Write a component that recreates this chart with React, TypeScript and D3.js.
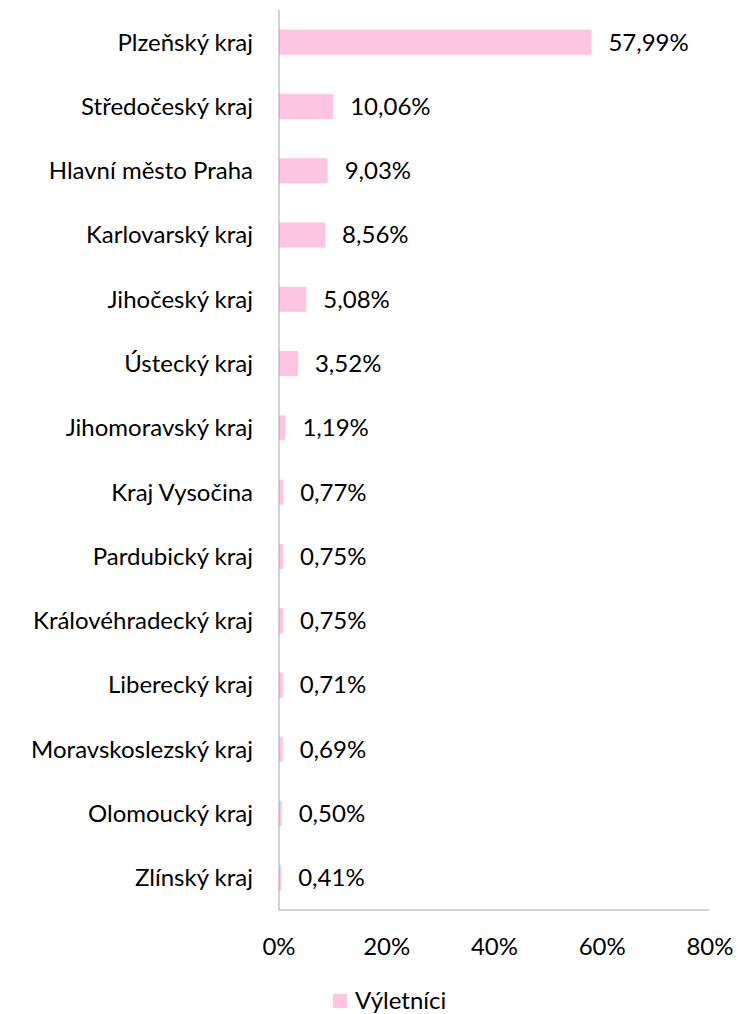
import React from "react";
import * as d3 from "d3";

const categories = [
  "Plzeňský kraj",
  "Středočeský kraj",
  "Hlavní město Praha",
  "Karlovarský kraj",
  "Jihočeský kraj",
  "Ústecký kraj",
  "Jihomoravský kraj",
  "Kraj Vysočina",
  "Pardubický kraj",
  "Královéhradecký kraj",
  "Liberecký kraj",
  "Moravskoslezský kraj",
  "Olomoucký kraj",
  "Zlínský kraj",
];
const values = [57.99, 10.06, 9.03, 8.56, 5.08, 3.52, 1.19, 0.77, 0.75, 0.75, 0.71, 0.69, 0.5, 0.41];
const xTicks = [0, 20, 40, 60, 80];
const seriesName = "Výletníci";

const W = 738;
const H = 1014;
const FONT = "Lato, 'Open Sans', sans-serif";
const FS = 24;
const BAR = "#FFC4E1";
const AXIS = "#A6A6A6";

export default function App() {
  const x = d3.scaleLinear().domain([0, 80]).range([279, 710]);
  const y = d3.scaleBand<string>().domain(categories).range([10, 910]).paddingInner(0.61).paddingOuter(0.305);
  const fmt = (v: number) => v.toFixed(2).replace(".", ",") + "%";
  return (
    <svg width={W} height={H} style={{ position: "absolute", left: 0, top: 0, background: "#fff" }} fontFamily={FONT}>
      {categories.map((c, i) => (
        <g key={c}>
          <rect x={x(0)} y={y(c)!} width={x(values[i]) - x(0)} height={y.bandwidth()} fill={BAR} />
          <text x={x(0) - 26} y={y(c)! + y.bandwidth() / 2} dy="0.35em" textAnchor="end" fontSize={FS} fill="#000">
            {c}
          </text>
          <text x={x(values[i]) + 17} y={y(c)! + y.bandwidth() / 2} dy="0.35em" textAnchor="start" fontSize={FS} fill="#000">
            {fmt(values[i])}
          </text>
        </g>
      ))}
      <line x1={x(0)} x2={x(0)} y1={10} y2={910} stroke={AXIS} strokeWidth={1} />
      <line x1={x(0)} x2={x(80)} y1={910} y2={910} stroke={AXIS} strokeWidth={1} />
      {xTicks.map((t) => (
        <text key={t} x={x(t)} y={947} dy="0.35em" textAnchor="middle" fontSize={FS} fill="#000">
          {t}%
        </text>
      ))}
      <rect x={333} y={994} width={14} height={14} fill={BAR} />
      <text x={355} y={1001} dy="0.35em" fontSize={FS} fill="#000">
        {seriesName}
      </text>
    </svg>
  );
}
